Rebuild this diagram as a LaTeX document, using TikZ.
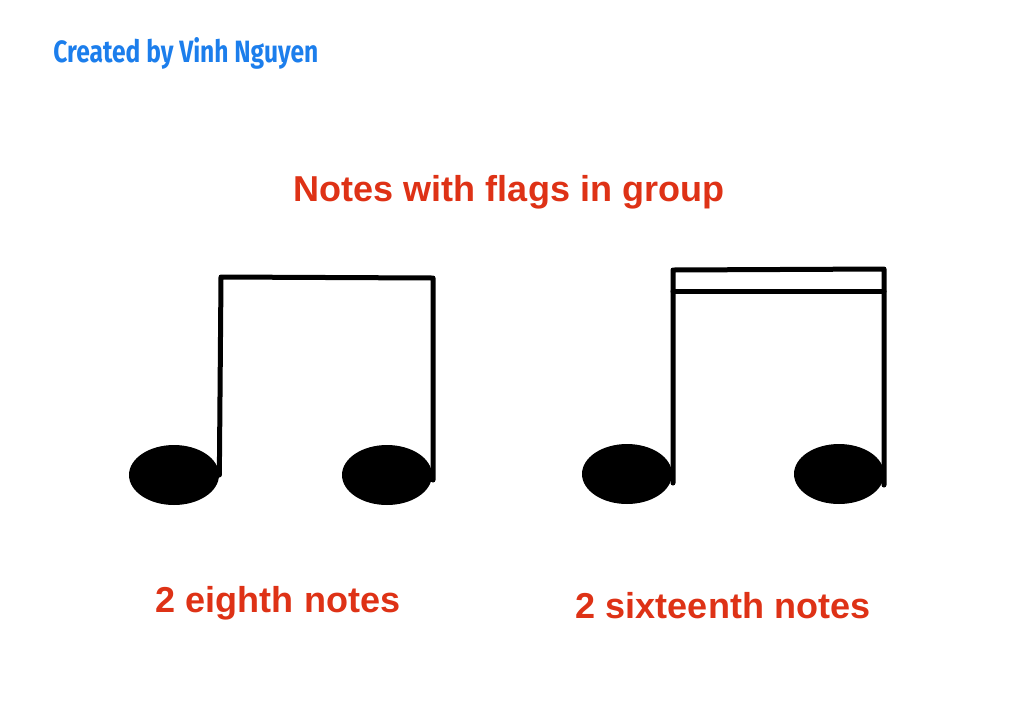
\documentclass[tikz,border=0pt]{standalone}
\usepackage{fontspec}
\setmainfont{Liberation Sans}
\newfontfamily\creditfont{Fira Sans}
\usetikzlibrary{shapes.geometric}
\definecolor{notered}{RGB}{222,50,22}
\definecolor{creditblue}{RGB}{28,126,236}
\tikzset{
  head/.style={ellipse, fill=black, minimum width=1.8cm, minimum height=1.2cm, inner sep=0pt},
  stem/.style={line width=0.1cm, line join=round, line cap=round},
  label/.style={text=notered, font=\fontsize{20.5}{24}\selectfont\bfseries, anchor=base, inner sep=0pt}
}
\begin{document}
\begin{tikzpicture}[x=0.02cm,y=-0.02cm]
    \useasboundingbox (0,0) rectangle (1017,707);

\node[anchor=base west, inner sep=0pt, text=creditblue] (credit) at (53,62)
  {\resizebox{5.3cm}{0.5cm}{\creditfont\bfseries Created by Vinh Nguyen}};

\node[label] (title) at (509,201) {Notes with flags in group};

% eighth notes
\node[head] (e1) at (174,475) {};
\node[head] (e2) at (387,475) {};
\coordinate (e1top) at (221,277);
\coordinate (e2top) at (433,278);
\draw[stem] (e1.east) -- (e1top) -- (e2top) -- (433,480);

\node[label] (eighth) at (278,612) {2 eighth notes};

% sixteenth notes
\node[head] (s1) at (627,474) {};
\node[head] (s2) at (839,474) {};
\coordinate (s1top) at (673,270);
\coordinate (s2top) at (884,269);
\draw[stem] (673,483) -- (s1top) -- (s2top) -- (884,485);
\draw[stem] (673,291) -- (884,291);

\node[label] (sixteenth) at (723,618) {2 sixteenth notes};

\end{tikzpicture}
\end{document}
